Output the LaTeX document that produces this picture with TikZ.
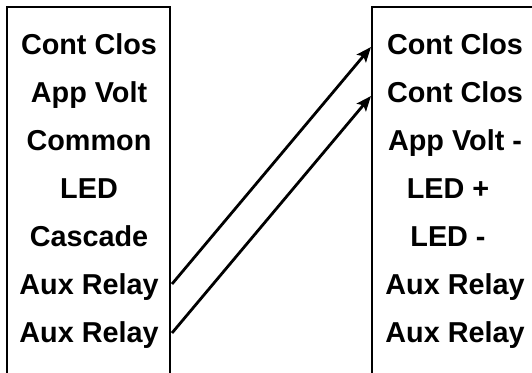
\documentclass[tikz,border=0pt]{standalone}
\usepackage{fontspec}
\setmainfont{Liberation Sans}
\usetikzlibrary{arrows.meta}
\begin{document}
\begin{tikzpicture}[x=1pt,y=-1pt,
  lbl/.style={font=\fontsize{28.8}{30}\selectfont\bfseries, inner sep=0pt, anchor=base},
  boxline/.style={draw=black, line width=2.6pt},
  conn/.style={line width=2.8pt, -{Stealth[length=15pt,width=12pt,inset=3pt]}}]
\useasboundingbox (0,0) rectangle (532,372);
\clip (0,0) rectangle (532,372);
\draw[boxline] (7,400) -- (7,7) -- (170,7) -- (170,400);
\draw[boxline] (560,7) -- (372,7) -- (372,400);
\node[lbl] (l1) at (89,54.5) {Cont Clos};
\node[lbl] (l2) at (89,102.5) {App Volt};
\node[lbl] (l3) at (89,150.5) {Common};
\node[lbl] (l4) at (89,198.5) {LED};
\node[lbl] (l5) at (89,246.5) {Cascade};
\node[lbl] (l6) at (89,294.5) {Aux Relay};
\node[lbl] (l7) at (89,342.5) {Aux Relay};
\node[lbl] (r1) at (455,54.5) {Cont Clos};
\node[lbl] (r2) at (455,102.5) {Cont Clos};
\node[lbl] (r3) at (455,150.5) {App Volt -};
\node[lbl] (r4) at (448,198.5) {LED +};
\node[lbl] (r5) at (448,246.5) {LED -};
\node[lbl] (r6) at (455,294.5) {Aux Relay};
\node[lbl] (r7) at (455,342.5) {Aux Relay};
\coordinate (s1) at (172,284);
\coordinate (s2) at (172,333);
\coordinate (e1) at (371,47);
\coordinate (e2) at (371,96);
\draw[conn] (s1) -- (e1);
\draw[conn] (s2) -- (e2);
\end{tikzpicture}
\end{document}
